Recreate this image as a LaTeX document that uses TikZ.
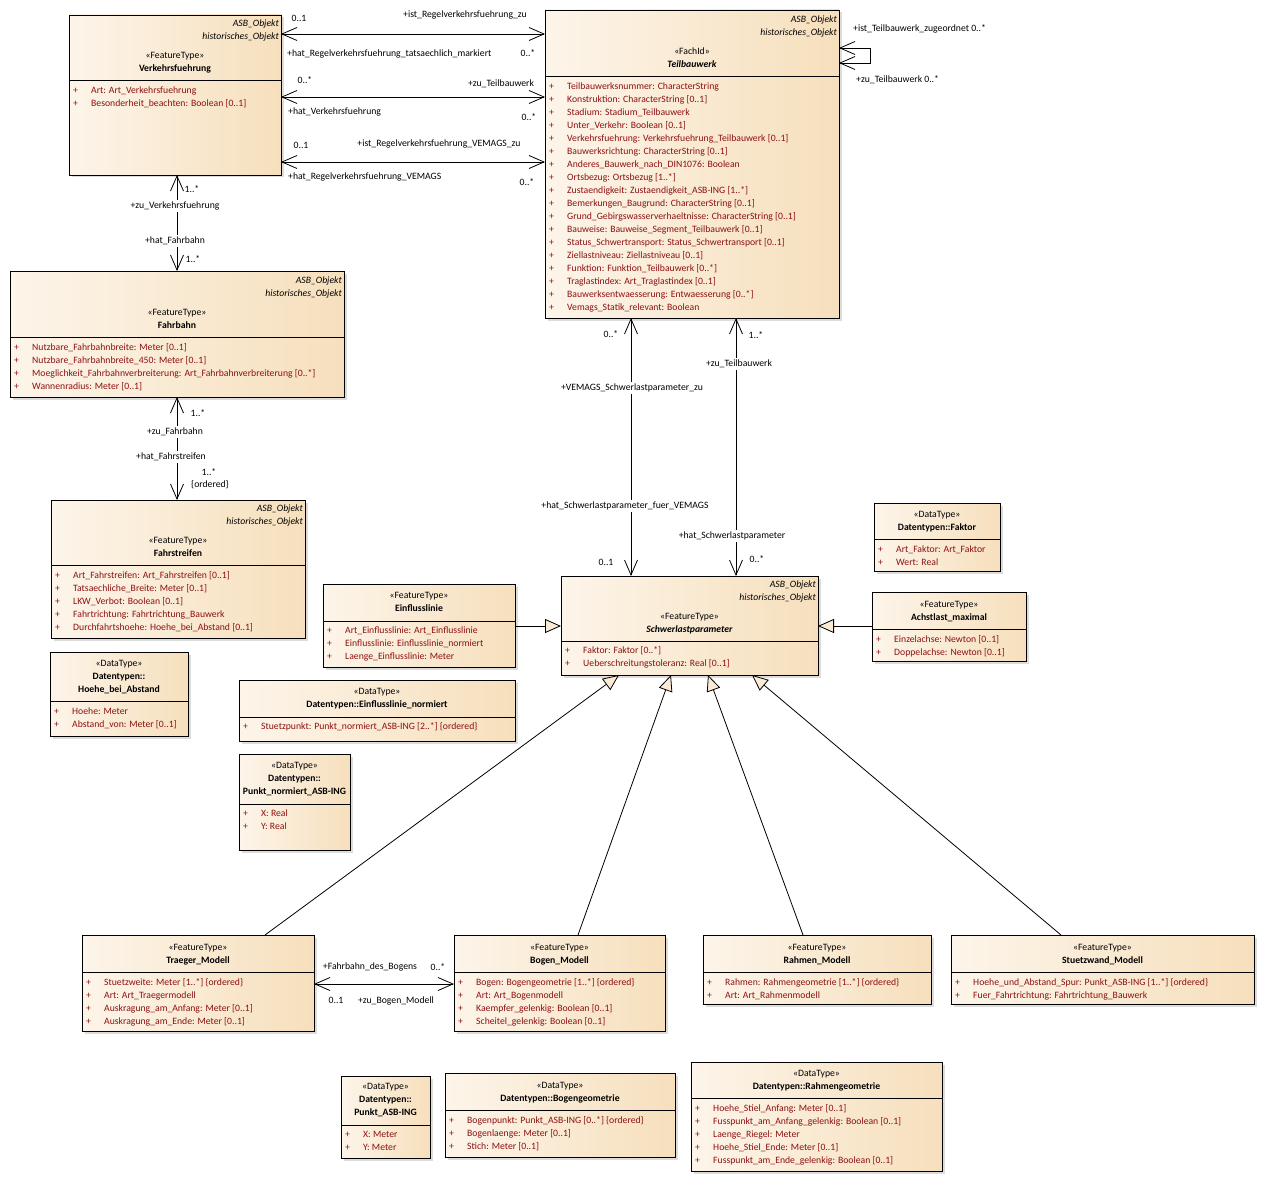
\documentclass[tikz,border=0pt]{standalone}
\usepackage{fontspec}
\setmainfont{Carlito}
\usetikzlibrary{arrows.meta,shadows}
\tikzset {>=Stealth}

\definecolor{boxL}{RGB}{253,245,234}
\definecolor{boxR}{RGB}{246,223,188}
\definecolor{tri}{RGB}{251,235,214}
\definecolor{attrred}{RGB}{140,16,16}
\newcommand{\umlfont}{\fontsize{9.7}{12}\selectfont}

\tikzset{
  cls/.style={draw, line width=0.8pt, inner sep=0pt, outer sep=0pt,
    left color=boxL, right color=boxR,
    drop shadow={shadow xshift=2.5pt, shadow yshift=-2.5pt, fill=black!30, opacity=0.45}},
  txt/.style={inner sep=0pt, text height=6.6pt, text depth=2pt, font=\umlfont},
  ttl/.style={txt, font=\umlfont\bfseries},
  attr/.style={txt, anchor=west, text=attrred},
  base/.style={txt, anchor=east, font=\umlfont\itshape},
  lbl/.style={txt},
  lblw/.style={txt, fill=white, inner ysep=1.5pt},
  assoc/.style={line width=0.8pt,
    {Straight Barb[length=15pt,width=13pt]}-{Straight Barb[length=15pt,width=13pt]}},
  gen/.style={line width=0.8pt, -{Triangle[length=16pt,width=14pt,fill=tri]}},
}

% box: name, x1, y1, x2, y2, separator y
\newcommand{\umlclass}[6]{%
  \node[cls, minimum width={#4pt-#2pt}, minimum height={#5pt-#3pt}] (#1) at ({(#2+#4)/2},{(#3+#5)/2}) {};
  \draw[line width=0.8pt] (#1.west |- 0,#6) -- (#1.east |- 0,#6);
}
% ASB_Objekt / historisches_Objekt: name, right x, y
\newcommand{\umlbase}[3]{%
  \node[base] (#1b1) at (#2-2,#3) {ASB\_Objekt};
  \node[base] (#1b2) at (#2-2,#3+13) {historisches\_Objekt};
}
% stereotype and name: [style], name, centre x, y, stereotype, title
\newcommand{\umltitle}[6][]{%
  \node[txt] (#2st) at (#3,#4) {«#5»};
  \node[ttl,#1] (#2nm) at (#3,#4+13) {#6};
}
% attributes: name, x1, first y, list
\newcommand{\umlattrs}[4]{%
  \foreach \a [count=\i from 0] in {#4} {
    \node[attr] (#1p\i) at (#2+4,#3+13*\i) {+};
    \node[attr] (#1a\i) at (#2+22,#3+13*\i) {\a};
  }
}

\begin{document}
\begin{tikzpicture}[x=1pt,y=-1pt]
\path[fill=white,use as bounding box] (0,0) rectangle (1265,1201);

% Verkehrsfuehrung
\umlclass{vf}{69}{15}{281}{175}{80}
\umlbase{vf}{281}{24}
\umltitle{vf}{175}{56}{FeatureType}{Verkehrsfuehrung}
\umlattrs{vf}{69}{91}{Art: Art\_Verkehrsfuehrung, Besonderheit\_beachten: Boolean [0..1]}

% Teilbauwerk
\umlclass{tb}{545}{10}{839}{318}{76}
\umlbase{tb}{839}{20}
\umltitle[font=\umlfont\bfseries\itshape]{tb}{692}{52}{FachId}{Teilbauwerk}
\umlattrs{tb}{545}{87}{Teilbauwerksnummer: CharacterString, Konstruktion: CharacterString [0..1],
  Stadium: Stadium\_Teilbauwerk, Unter\_Verkehr: Boolean [0..1],
  Verkehrsfuehrung: Verkehrsfuehrung\_Teilbauwerk [0..1], Bauwerksrichtung: CharacterString [0..1],
  Anderes\_Bauwerk\_nach\_DIN1076: Boolean, Ortsbezug: Ortsbezug [1..*],
  Zustaendigkeit: Zustaendigkeit\_ASB-ING [1..*], Bemerkungen\_Baugrund: CharacterString [0..1],
  Grund\_Gebirgswasserverhaeltnisse: CharacterString [0..1], Bauweise: Bauweise\_Segment\_Teilbauwerk [0..1],
  Status\_Schwertransport: Status\_Schwertransport [0..1], Ziellastniveau: Ziellastniveau [0..1],
  Funktion: Funktion\_Teilbauwerk [0..*], Traglastindex: Art\_Traglastindex [0..1],
  Bauwerksentwaesserung: Entwaesserung [0..*], Vemags\_Statik\_relevant: Boolean}

% Fahrbahn
\umlclass{fb}{10}{271}{344}{397}{337}
\umlbase{fb}{344}{281}
\umltitle{fb}{177}{313}{FeatureType}{Fahrbahn}
\umlattrs{fb}{10}{348}{Nutzbare\_Fahrbahnbreite: Meter [0..1], Nutzbare\_Fahrbahnbreite\_450: Meter [0..1],
  Moeglichkeit\_Fahrbahnverbreiterung: Art\_Fahrbahnverbreiterung [0..*], Wannenradius: Meter [0..1]}

% Fahrstreifen
\umlclass{fs}{51}{500}{305}{638}{565}
\umlbase{fs}{305}{509}
\umltitle{fs}{178}{541}{FeatureType}{Fahrstreifen}
\umlattrs{fs}{51}{576}{Art\_Fahrstreifen: Art\_Fahrstreifen [0..1], Tatsaechliche\_Breite: Meter [0..1],
  LKW\_Verbot: Boolean [0..1], Fahrtrichtung: Fahrtrichtung\_Bauwerk, Durchfahrtshoehe: Hoehe\_bei\_Abstand [0..1]}

% Hoehe_bei_Abstand
\umlclass{hba}{50}{652}{188}{736}{701}
\umltitle{hba}{119}{664}{DataType}{Datentypen::}
\node[ttl] (hbanm2) at (119,690) {Hoehe\_bei\_Abstand};
\umlattrs{hba}{50}{712}{Hoehe: Meter, Abstand\_von: Meter [0..1]}

% Einflusslinie
\umlclass{el}{323}{584}{515}{667}{621}
\umltitle{el}{419}{596}{FeatureType}{Einflusslinie}
\umlattrs{el}{323}{631}{Art\_Einflusslinie: Art\_Einflusslinie, Einflusslinie: Einflusslinie\_normiert,
  Laenge\_Einflusslinie: Meter}

% Einflusslinie_normiert
\umlclass{eln}{239}{680}{515}{741}{717}
\umltitle{eln}{377}{692}{DataType}{Datentypen::Einflusslinie\_normiert}
\umlattrs{eln}{239}{727}{Stuetzpunkt: Punkt\_normiert\_ASB-ING [2..*] \{ordered\}}

% Punkt_normiert_ASB-ING
\umlclass{pn}{239}{754}{350}{850}{804}
\umltitle{pn}{294.5}{766}{DataType}{Datentypen::}
\node[ttl] (pnnm2) at (294.5,792) {Punkt\_normiert\_ASB-ING};
\umlattrs{pn}{239}{814}{X: Real, Y: Real}

% Schwerlastparameter
\umlclass{slp}{561}{576}{818}{675}{641}
\umlbase{slp}{818}{585}
\umltitle[font=\umlfont\bfseries\itshape]{slp}{689.5}{617}{FeatureType}{Schwerlastparameter}
\umlattrs{slp}{561}{651}{Faktor: Faktor [0..*], Ueberschreitungstoleranz: Real [0..1]}

% Faktor
\umlclass{fk}{874}{503}{1000}{571}{539}
\umltitle{fk}{937}{515}{DataType}{Datentypen::Faktor}
\umlattrs{fk}{874}{550}{Art\_Faktor: Art\_Faktor, Wert: Real}

% Achstlast_maximal
\umlclass{am}{872}{592}{1026}{661}{629}
\umltitle{am}{949}{605}{FeatureType}{Achstlast\_maximal}
\umlattrs{am}{872}{640}{Einzelachse: Newton [0..1], Doppelachse: Newton [0..1]}

% Modelle
\umlclass{tm}{82}{935}{314}{1031}{972}
\umltitle{tm}{198}{948}{FeatureType}{Traeger\_Modell}
\umlattrs{tm}{82}{983}{Stuetzweite: Meter [1..*] \{ordered\}, Art: Art\_Traegermodell,
  Auskragung\_am\_Anfang: Meter [0..1], Auskragung\_am\_Ende: Meter [0..1]}

\umlclass{bm}{454}{935}{665}{1031}{972}
\umltitle{bm}{559.5}{948}{FeatureType}{Bogen\_Modell}
\umlattrs{bm}{454}{983}{Bogen: Bogengeometrie [1..*] \{ordered\}, Art: Art\_Bogenmodell,
  Kaempfer\_gelenkig: Boolean [0..1], Scheitel\_gelenkig: Boolean [0..1]}

\umlclass{rm}{703}{935}{931}{1004}{972}
\umltitle{rm}{817}{948}{FeatureType}{Rahmen\_Modell}
\umlattrs{rm}{703}{983}{Rahmen: Rahmengeometrie [1..*] \{ordered\}, Art: Art\_Rahmenmodell}

\umlclass{sm}{951}{935}{1254}{1004}{972}
\umltitle{sm}{1102.5}{948}{FeatureType}{Stuetzwand\_Modell}
\umlattrs{sm}{951}{983}{Hoehe\_und\_Abstand\_Spur: Punkt\_ASB-ING [1..*] \{ordered\},
  Fuer\_Fahrtrichtung: Fahrtrichtung\_Bauwerk}

% Datentypen unten
\umlclass{pa}{341}{1076}{430}{1158}{1125}
\umltitle{pa}{385.5}{1087}{DataType}{Datentypen::}
\node[ttl] (panm2) at (385.5,1113) {Punkt\_ASB-ING};
\umlattrs{pa}{341}{1135}{X: Meter, Y: Meter}

\umlclass{bg}{445}{1073}{675}{1157}{1110}
\umltitle{bg}{560}{1086}{DataType}{Datentypen::Bogengeometrie}
\umlattrs{bg}{445}{1121}{Bogenpunkt: Punkt\_ASB-ING [0..*] \{ordered\}, Bogenlaenge: Meter [0..1],
  Stich: Meter [0..1]}

\umlclass{rg}{691}{1062}{942}{1171}{1098}
\umltitle{rg}{816.5}{1074}{DataType}{Datentypen::Rahmengeometrie}
\umlattrs{rg}{691}{1109}{Hoehe\_Stiel\_Anfang: Meter [0..1], Fusspunkt\_am\_Anfang\_gelenkig: Boolean [0..1],
  Laenge\_Riegel: Meter, Hoehe\_Stiel\_Ende: Meter [0..1], Fusspunkt\_am\_Ende\_gelenkig: Boolean [0..1]}

% Assoziationen
\draw[assoc] (vf.east |- 0,34) -- (tb.west |- 0,34);
\draw[assoc] (vf.east |- 0,97) -- (tb.west |- 0,97);
\draw[assoc] (vf.east |- 0,162) -- (tb.west |- 0,162);
\draw[assoc] (tb.east |- 0,48) -- ++(31,0) |- (tb.east |- 0,63);
\draw[assoc] (vf.south -| 177,0) -- (fb.north -| 177,0);
\draw[assoc] (fb.south -| 177,0) -- (fs.north -| 177,0);
\draw[assoc] (tb.south -| 631,0) -- (slp.north -| 631,0);
\draw[assoc] (tb.south -| 736,0) -- (slp.north -| 736,0);
\draw[assoc] (tm.east |- 0,984) -- (bm.west |- 0,984);

% Generalisierungen
\draw[gen] (el.east |- 0,626) -- (slp.west |- 0,626);
\draw[gen] (am.west |- 0,626) -- (slp.east |- 0,626);
\draw[gen] (tm.north -| 265,0) -- (slp.south -| 619,0);
\draw[gen] (bm.north -| 578,0) -- (slp.south -| 671,0);
\draw[gen] (rm.north -| 803,0) -- (slp.south -| 708,0);
\draw[gen] (sm.north -| 1061,0) -- (slp.south -| 752,0);

% Rollen und Multiplizitaeten
\node[lbl] (l1) at (299,19) {0..1};
\node[lbl] (l2) at (465,15) {+ist\_Regelverkehrsfuehrung\_zu};
\node[lbl,anchor=west] (l3) at (287,54) {+hat\_Regelverkehrsfuehrung\_tatsaechlich\_markiert};
\node[lbl] (l4) at (528,54) {0..*};
\node[lbl] (l5) at (305,81) {0..*};
\node[lbl] (l6) at (501,84) {+zu\_Teilbauwerk};
\node[lbl,anchor=west] (l7) at (288,112) {+hat\_Verkehrsfuehrung};
\node[lbl] (l8) at (529,118) {0..*};
\node[lbl] (l9) at (301,146) {0..1};
\node[lbl] (l10) at (439,144) {+ist\_Regelverkehrsfuehrung\_VEMAGS\_zu};
\node[lbl,anchor=west] (l11) at (288,177) {+hat\_Regelverkehrsfuehrung\_VEMAGS};
\node[lbl] (l12) at (527,183) {0..*};
\node[lbl,anchor=west] (l13) at (853,29) {+ist\_Teilbauwerk\_zugeordnet 0..*};
\node[lbl,anchor=west] (l14) at (856,80) {+zu\_Teilbauwerk 0..*};

\node[lbl] (l15) at (192,190) {1..*};
\node[lblw] (l16) at (175,206) {+zu\_Verkehrsfuehrung};
\node[lblw] (l17) at (175,241) {+hat\_Fahrbahn};
\node[lbl] (l18) at (193,260) {1..*};
\node[lbl] (l19) at (198,414) {1..*};
\node[lblw] (l20) at (175,432) {+zu\_Fahrbahn};
\node[lblw] (l21) at (171,457) {+hat\_Fahrstreifen};
\node[lbl] (l22) at (209,473) {1..*};
\node[lbl] (l23) at (210,485) {\{ordered\}};

\node[lbl] (l24) at (611,335) {0..*};
\node[lblw] (l25) at (632,388) {+VEMAGS\_Schwerlastparameter\_zu};
\node[lblw] (l26) at (625,506) {+hat\_Schwerlastparameter\_fuer\_VEMAGS};
\node[lbl] (l27) at (606,563) {0..1};
\node[lbl] (l28) at (756,336) {1..*};
\node[lblw] (l29) at (739,364) {+zu\_Teilbauwerk};
\node[lblw] (l30) at (732,536) {+hat\_Schwerlastparameter};
\node[lbl] (l31) at (757,560) {0..*};

\node[lbl] (l32) at (370,967) {+Fahrbahn\_des\_Bogens};
\node[lbl] (l33) at (438,968) {0..*};
\node[lbl] (l34) at (336,1001) {0..1};
\node[lbl] (l35) at (396,1001) {+zu\_Bogen\_Modell};
\end{tikzpicture}
\end{document}
